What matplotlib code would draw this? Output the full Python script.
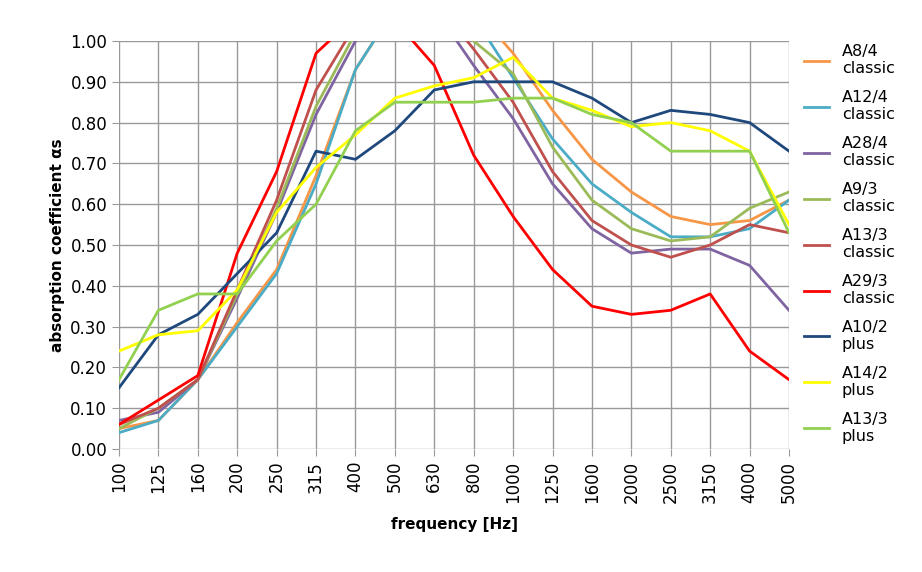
import matplotlib
matplotlib.use("Agg")
import matplotlib.pyplot as plt

freqs = ["100","125","160","200","250","315","400","500","630","800","1000","1250","1600","2000","2500","3150","4000","5000"]
names = ["A8/4\nclassic","A12/4\nclassic","A28/4\nclassic","A9/3\nclassic","A13/3\nclassic","A29/3\nclassic","A10/2\nplus","A14/2\nplus","A13/3\nplus"]
colors = ["#F79646","#4BACC6","#8064A2","#9BBB59","#C0504D","#FF0000","#1F497D","#FFFF00","#92D050"]
a8_4  = [0.05,0.07,0.17,0.31,0.44,0.67,0.93,1.08,1.12,1.08,0.97,0.83,0.71,0.63,0.57,0.55,0.56,0.61]
a12_4 = [0.04,0.07,0.17,0.30,0.43,0.65,0.93,1.08,1.12,1.06,0.91,0.76,0.65,0.58,0.52,0.52,0.54,0.61]
a28_4 = [0.07,0.09,0.17,0.37,0.58,0.82,1.00,1.10,1.08,0.94,0.81,0.65,0.54,0.48,0.49,0.49,0.45,0.34]
a9_3  = [0.05,0.10,0.17,0.38,0.59,0.84,1.02,1.10,1.10,1.00,0.92,0.74,0.61,0.54,0.51,0.52,0.59,0.63]
a13_3 = [0.06,0.10,0.17,0.39,0.61,0.88,1.04,1.12,1.10,0.98,0.85,0.68,0.56,0.50,0.47,0.50,0.55,0.53]
a29_3 = [0.06,0.12,0.18,0.48,0.68,0.97,1.06,1.05,0.94,0.72,0.57,0.44,0.35,0.33,0.34,0.38,0.24,0.17]
a10_2 = [0.15,0.28,0.33,0.43,0.53,0.73,0.71,0.78,0.88,0.90,0.90,0.90,0.86,0.80,0.83,0.82,0.80,0.73]
a14_2 = [0.24,0.28,0.29,0.39,0.58,0.69,0.77,0.86,0.89,0.91,0.96,0.86,0.83,0.79,0.80,0.78,0.73,0.55]
a13_3p= [0.17,0.34,0.38,0.38,0.51,0.60,0.78,0.85,0.85,0.85,0.86,0.86,0.82,0.80,0.73,0.73,0.73,0.53]
series = [a8_4,a12_4,a28_4,a9_3,a13_3,a29_3,a10_2,a14_2,a13_3p]

fig = plt.figure(figsize=(9.22,5.72), dpi=100)
ax = fig.add_axes([119/922, 1-449/572, (789-119)/922, (449-41)/572])
x = list(range(len(freqs)))
for s, n, c in zip(series, names, colors):
    ax.plot(x, s, color=c, lw=2, label=n)
ax.set_xlim(0, len(freqs)-1)
ax.set_ylim(0, 1.0)
ax.set_xticks(x)
ax.set_xticklabels(freqs, rotation=90, fontsize=12)
yt = [i/10 for i in range(11)]
ax.set_yticks(yt)
ax.set_yticklabels([f"{v:.2f}" for v in yt], fontsize=12)
ax.grid(True, color="#999999", lw=1)
for sp in ax.spines.values():
    sp.set_visible(False)
ax.tick_params(length=5, color="#999999")
ax.set_xlabel("frequency [Hz]", fontsize=11, fontweight="bold", labelpad=10)
ax.set_ylabel("absorption coefficient αs", fontsize=11, fontweight="bold")
ax.legend(loc="upper left", bbox_to_anchor=(1.005, 1.02), frameon=False, fontsize=11.5,
          handlelength=1.6, labelspacing=0.85, borderaxespad=0.3)
fig.savefig("out.png", dpi=100)
